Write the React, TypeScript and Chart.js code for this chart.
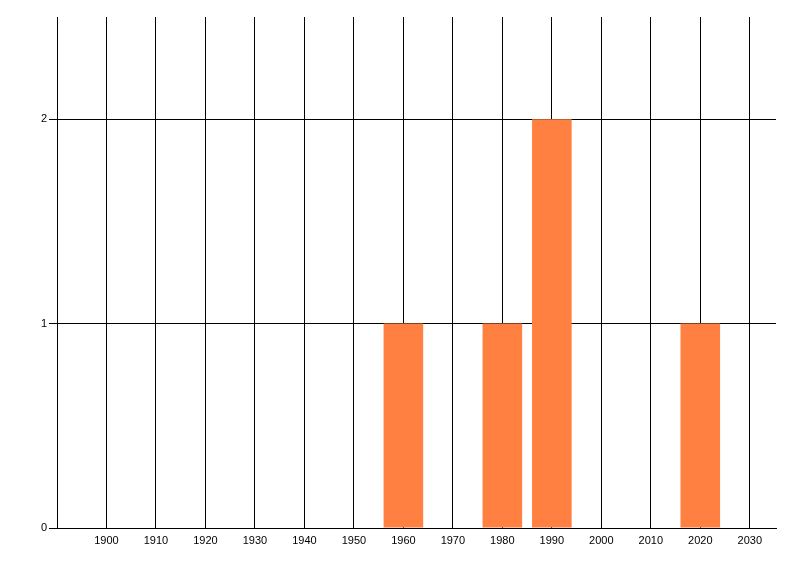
import React, { useEffect, useRef } from "react";
import { Chart, registerables } from "chart.js";

Chart.register(...registerables);

const years = [1960, 1980, 1990, 2020];
const counts = [1, 1, 2, 1];
const xTickValues = [1900, 1910, 1920, 1930, 1940, 1950, 1960, 1970, 1980, 1990, 2000, 2010, 2020, 2030];
const yTickValues = [0, 1, 2];

export default function App() {
  const ref = useRef<HTMLCanvasElement | null>(null);
  useEffect(() => {
    if (!ref.current) return;
    const font = { family: "'Liberation Sans', Arial, sans-serif", size: 11 };
    const chart = new Chart(ref.current, {
      type: "bar",
      data: {
        datasets: [
          {
            data: years.map((y, i) => ({ x: y, y: counts[i] })),
            backgroundColor: "rgb(255,128,64)",
            borderWidth: 0,
            barPercentage: 0.8,
            categoryPercentage: 1,
          },
        ],
      },
      options: {
        animation: false,
        responsive: false,
        maintainAspectRatio: false,
        layout: { padding: { top: 17, right: 24, left: 0, bottom: 0 } },
        plugins: { legend: { display: false }, tooltip: { enabled: false } },
        scales: {
          x: {
            type: "linear",
            min: 1890,
            max: 2035.3,
            offset: false,
            afterBuildTicks: (s: any) => {
              s.ticks = xTickValues.map((v) => ({ value: v }));
            },
            afterFit: (s: any) => {
              s.height = 48;
            },
            grid: { color: "#000", lineWidth: 1, drawTicks: false, offset: false },
            border: { display: true, color: "#000", width: 1 },
            ticks: {
              color: "#000",
              font,
              padding: 6,
              maxRotation: 0,
              autoSkip: false,
              callback: (v: any) => String(v),
            },
          },
          y: {
            min: 0,
            max: 2.5,
            afterBuildTicks: (s: any) => {
              s.ticks = yTickValues.map((v) => ({ value: v }));
            },
            afterFit: (s: any) => {
              s.width = 57;
            },
            grid: { color: "#000", lineWidth: 1, drawTicks: true, tickLength: 8 },
            border: { display: true, color: "#000", width: 1 },
            ticks: { color: "#000", font, padding: 2, callback: (v: any) => String(v) },
          },
        },
      },
    });
    return () => chart.destroy();
  }, []);
  return (
    <div style={{ position: "absolute", left: 0, top: 0, width: 800, height: 576, background: "#fff" }}>
      <canvas ref={ref} width={800} height={576} style={{ width: 800, height: 576 }} />
    </div>
  );
}
